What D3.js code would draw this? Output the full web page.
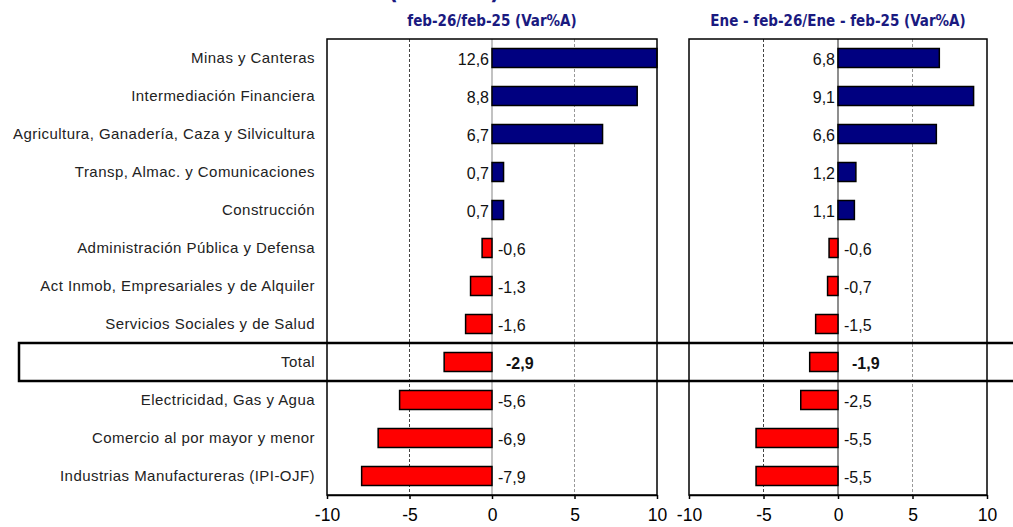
<!DOCTYPE html>
<html>
<head>
<meta charset="utf-8">
<script src="https://cdn.jsdelivr.net/npm/d3@7"></script>
<style>
  body { margin: 0; background: #fff; }
  svg { display: block; }
</style>
</head>
<body>
<div id="chart"></div>
<script>
// sectors, top to bottom
var sectors = ["Minas y Canteras", "Intermediación Financiera", "Agricultura, Ganadería, Caza y Silvicultura",
  "Transp, Almac. y Comunicaciones", "Construcción", "Administración Pública y Defensa",
  "Act Inmob, Empresariales y de Alquiler", "Servicios Sociales y de Salud", "Total",
  "Electricidad, Gas y Agua", "Comercio al por mayor y menor", "Industrias Manufactureras (IPI-OJF)"];

// feb-26/feb-25
var monthVar = [12.6, 8.8, 6.7, 0.7, 0.7, -0.6, -1.3, -1.6, -2.9, -5.6, -6.9, -7.9];
// Ene-feb-26/Ene-feb-25
var ytdVar = [6.8, 9.1, 6.6, 1.2, 1.1, -0.6, -0.7, -1.5, -1.9, -2.5, -5.5, -5.5];

var panelTitles = ["feb-26/feb-25  (Var%A)", "Ene - feb-26/Ene - feb-25  (Var%A)"];
var xTicks = [-10, -5, 0, 5, 10];

var W = 1013, H = 527;
var plotTop = 39, plotBottom = 495;

var svg = d3.select("#chart").append("svg")
  .attr("width", W).attr("height", H);

var y = d3.scaleBand()
  .domain(sectors)
  .range([plotTop, plotBottom])
  .paddingInner(0.5).paddingOuter(0.25);

// comma decimals, plain hyphen for minus
var locale = d3.formatLocale({decimal: ",", thousands: ".", grouping: [3], currency: ["", ""], minus: "-"});
var fmt = locale.format(".1f");

// cut off heading above
svg.append("text")
  .attr("x", 444).attr("y", -1)
  .attr("text-anchor", "middle")
  .attr("textLength", 112)
  .attr("lengthAdjust", "spacingAndGlyphs")
  .style("font", "bold 24px 'Liberation Sans Narrow', 'DejaVu Sans Condensed', sans-serif")
  .style("fill", "#1a1a80")
  .text("(Var. %A)");

// category labels
svg.append("g").selectAll("text")
  .data(sectors)
  .enter().append("text")
  .attr("x", 315)
  .attr("y", d => y(d) + y.bandwidth() / 2)
  .attr("dy", "0.35em")
  .attr("text-anchor", "end")
  .style("font", "15px 'Liberation Sans', Arial, sans-serif")
  .style("letter-spacing", "0.45px")
  .style("fill", "#222")
  .text(d => d);

function panel(values, x0, x1, title, zeroColor) {
  var x = d3.scaleLinear().domain([-10, 10]).range([x0, x1]).clamp(true);
  var g = svg.append("g");

  // dashed gridlines at -5 and 5
  g.selectAll("line.grid")
    .data([-5, 5])
    .enter().append("line")
    .attr("class", "grid")
    .attr("x1", d => x(d)).attr("x2", d => x(d))
    .attr("y1", plotTop).attr("y2", plotBottom)
    .attr("stroke", d => d < 0 ? "#444" : "#999")
    .attr("stroke-width", 1)
    .attr("stroke-dasharray", "3,2");

  // zero line
  g.append("line")
    .attr("x1", x(0)).attr("x2", x(0))
    .attr("y1", plotTop).attr("y2", plotBottom)
    .attr("stroke", zeroColor).attr("stroke-width", 1.2);

  // bars
  g.selectAll("rect.bar")
    .data(values)
    .enter().append("rect")
    .attr("class", "bar")
    .attr("x", d => x(Math.min(0, d)))
    .attr("y", (d, i) => y(sectors[i]))
    .attr("width", d => Math.abs(x(d) - x(0)))
    .attr("height", y.bandwidth())
    .attr("fill", d => d >= 0 ? "#000080" : "#ff0000")
    .attr("stroke", "#000")
    .attr("stroke-width", 1.5);

  // value labels
  g.selectAll("text.val")
    .data(values)
    .enter().append("text")
    .attr("class", "val")
    .attr("x", (d, i) => d >= 0 ? x(0) - 3 : x(0) + (sectors[i] == "Total" ? 14 : 6))
    .attr("y", (d, i) => y(sectors[i]) + y.bandwidth() / 2)
    .attr("dy", "0.42em")
    .attr("text-anchor", d => d >= 0 ? "end" : "start")
    .style("font-family", "'Liberation Sans', Arial, sans-serif")
    .style("font-size", "16px")
    .style("font-weight", (d, i) => sectors[i] == "Total" ? "bold" : "normal")
    .style("fill", "#111")
    .text(fmt);

  // frame
  g.append("rect")
    .attr("x", x0).attr("y", plotTop)
    .attr("width", x1 - x0).attr("height", plotBottom - plotTop)
    .attr("fill", "none")
    .attr("stroke", "#000").attr("stroke-width", 1.5);

  // bottom axis
  var ax = g.append("g")
    .attr("transform", "translate(0," + plotBottom + ")")
    .call(d3.axisBottom(x).tickValues(xTicks).tickSize(4).tickSizeOuter(0).tickFormat(locale.format("d")));
  ax.select(".domain").attr("stroke-width", 1.5);
  ax.selectAll("line").attr("stroke-width", 1.5);
  ax.selectAll("text")
    .attr("y", 14)
    .style("font", "17.5px 'Liberation Sans', Arial, sans-serif")
    .style("fill", "#000");

  // panel title
  svg.append("text")
    .attr("x", x(0)).attr("y", 26)
    .attr("text-anchor", "middle")
    .style("font", "bold 15px 'Liberation Sans Narrow', 'DejaVu Sans Condensed', sans-serif")
    .style("fill", "#1a1a80")
    .text(title);
}

panel(monthVar, 327, 657, panelTitles[0], "#999");
panel(ytdVar, 689, 987, panelTitles[1], "#444");

// box around Total row
var totalTop = y("Total") - y.step() * 0.25;
svg.append("rect")
  .attr("x", 19).attr("y", totalTop)
  .attr("width", 1013).attr("height", y.step())
  .attr("fill", "none")
  .attr("stroke", "#000").attr("stroke-width", 2.5);
</script>
</body>
</html>
